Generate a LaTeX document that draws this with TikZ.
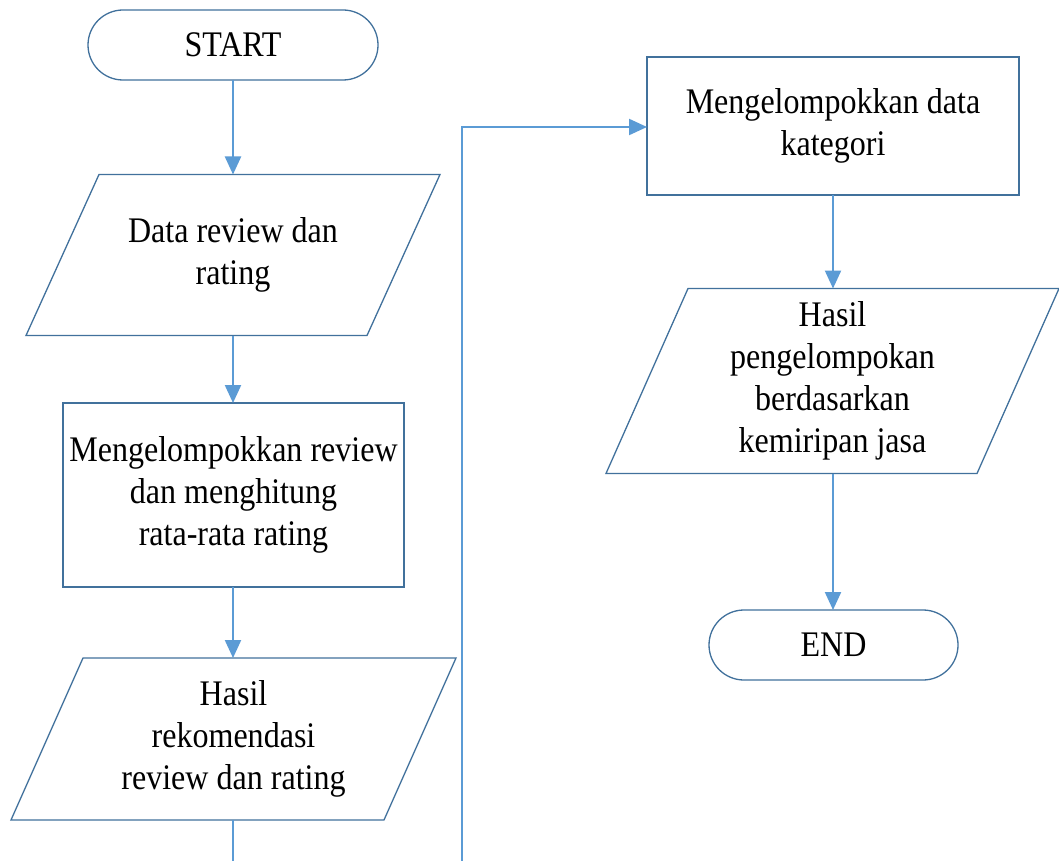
\documentclass[tikz,border=0pt]{standalone}
\usepackage{fontspec}
\setmainfont{Liberation Serif}[FakeStretch=0.89]
\usetikzlibrary{arrows.meta,calc}
\definecolor{shapeblue}{HTML}{41719C}
\definecolor{lineblue}{HTML}{5B9BD5}
\begin{document}
\begin{tikzpicture}[x=1pt,y=-1pt,
  base/.style={inner sep=0pt,outer sep=0pt,align=center,font=\fontsize{36}{42}\selectfont},
  procbox/.style={base,draw=shapeblue,line width=1.3pt,rectangle},
  termbox/.style={base,draw=shapeblue,line width=1.3pt,rounded corners=35pt},
  iobox/.style={base},
  iooutline/.style={draw=shapeblue,line width=1.3pt,line join=miter},
  flow/.style={draw=lineblue,line width=2.2pt,-{Triangle[width=16pt,length=18pt]}},
  flowplain/.style={draw=lineblue,line width=2.2pt}]
\clip (0,0) rectangle (1059,861);
\fill[white] (0,0) rectangle (1059,861);

% left column
\node[termbox,minimum width=290pt,minimum height=70pt] (start) at (233,45) {START};
\node[iobox,minimum width=414pt,minimum height=161pt] (p1) at (233,255) {Data review dan\\rating};
\draw[iooutline] ($(p1.north west)+(73,0)$) -- (p1.north east) -- ($(p1.south east)+(-73,0)$) -- (p1.south west) -- cycle;
\node[procbox,minimum width=341pt,minimum height=184pt] (r2) at (233.5,495) {Mengelompokkan review\\dan menghitung\\rata-rata rating};
\node[iobox,minimum width=445pt,minimum height=162pt] (p2) at (233.5,739) {Hasil\\rekomendasi\\review dan rating};
\draw[iooutline] ($(p2.north west)+(72,0)$) -- (p2.north east) -- ($(p2.south east)+(-72,0)$) -- (p2.south west) -- cycle;

% right column
\node[procbox,minimum width=372pt,minimum height=138pt] (r3) at (833,126) {Mengelompokkan data\\kategori};
\node[iobox,minimum width=453pt,minimum height=185pt] (p3) at (832.5,381) {Hasil\\pengelompokan\\berdasarkan\\kemiripan jasa};
\draw[iooutline] ($(p3.north west)+(82,0)$) -- (p3.north east) -- ($(p3.south east)+(-82,0)$) -- (p3.south west) -- cycle;
\node[termbox,minimum width=249pt,minimum height=70pt] (end) at (833.5,645) {END};

% connectors
\coordinate (c1) at (233,880);
\coordinate (c2) at (462,880);
\coordinate (c3) at (462,127);
\draw[flow] (start.south) -- (start.south |- p1.north);
\draw[flow] (p1.south -| start.south) -- (r2.north -| start.south);
\draw[flow] (r2.south -| start.south) -- (p2.north -| start.south);
\draw[flow] (p2.south -| start.south) -- (c1) -- (c2) -- (c3) -- (c3 -| r3.west);
\draw[flow] (r3.south) -- (p3.north -| r3.south);
\draw[flow] (p3.south -| r3.south) -- (end.north -| r3.south);
\end{tikzpicture}
\end{document}
